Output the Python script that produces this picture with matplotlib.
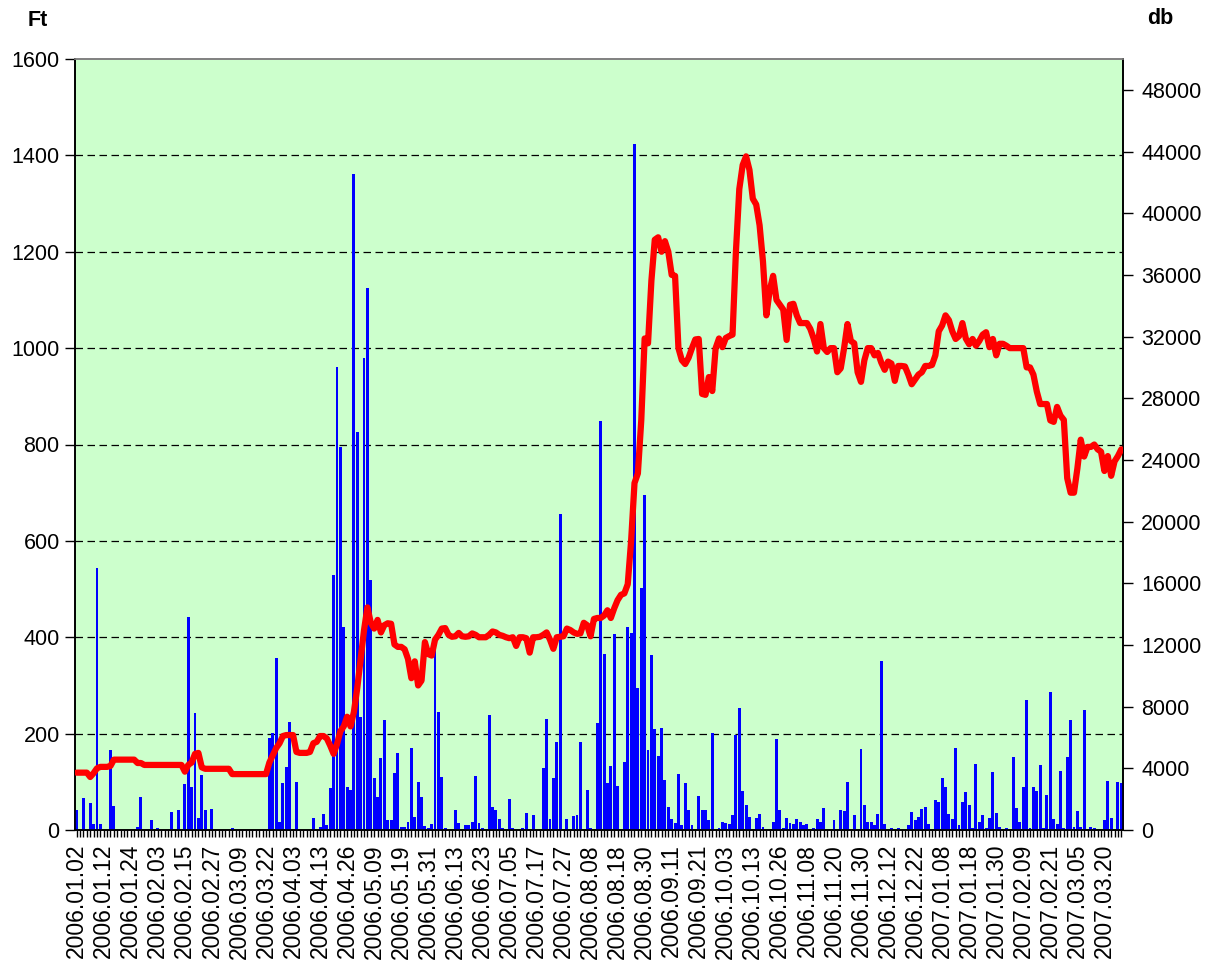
import matplotlib
matplotlib.use("Agg")
import matplotlib.pyplot as plt
import numpy as np

plt.rcParams['font.family'] = ['Liberation Sans', 'DejaVu Sans']

tick_labels = [
    "2006.01.02", "2006.01.12", "2006.01.24", "2006.02.03", "2006.02.15", "2006.02.27",
    "2006.03.09", "2006.03.22", "2006.04.03", "2006.04.13", "2006.04.26", "2006.05.09",
    "2006.05.19", "2006.05.31", "2006.06.13", "2006.06.23", "2006.07.05", "2006.07.17",
    "2006.07.27", "2006.08.08", "2006.08.18", "2006.08.30", "2006.09.11", "2006.09.21",
    "2006.10.03", "2006.10.13", "2006.10.26", "2006.11.08", "2006.11.20", "2006.11.30",
    "2006.12.12", "2006.12.22", "2007.01.08", "2007.01.18", "2007.01.30", "2007.02.09",
    "2007.02.21", "2007.03.05", "2007.03.20",
]

# closing price (Ft), one value per trading day
price = [
    119, 119, 119, 119, 110, 118, 128, 131, 131, 131,
    133, 146, 146, 146, 146, 146, 146, 146, 139, 139,
    135, 135, 135, 135, 135, 135, 135, 135, 135, 135,
    135, 135, 121, 135, 140, 158, 160, 130, 127, 127,
    127, 127, 127, 127, 127, 127, 116, 116, 116, 116,
    116, 116, 116, 116, 116, 116, 116, 140, 155, 170,
    180, 195, 197, 197, 197, 162, 160, 160, 160, 162,
    180, 183, 195, 195, 190, 175, 158, 178, 205, 215,
    235, 215, 245, 295, 355, 415, 462, 430, 418, 436,
    410, 425, 429, 428, 385, 380, 380, 375, 355, 315,
    350, 300, 310, 390, 365, 362, 395, 405, 418, 419,
    405, 401, 402, 409, 402, 401, 402, 408, 405, 400,
    400, 400, 405, 412, 410, 405, 403, 400, 398, 400,
    382, 400, 400, 398, 368, 400, 400, 401, 405, 410,
    395, 376, 400, 401, 402, 418, 415, 410, 407, 408,
    430, 425, 402, 438, 440, 440, 445, 456, 440, 460,
    477, 488, 491, 510, 600, 720, 740, 850, 1020, 1010,
    1140, 1225, 1230, 1200, 1222, 1200, 1152, 1150, 1000, 975,
    967, 980, 1000, 1018, 1019, 905, 903, 940, 911, 1000,
    1020, 1002, 1021, 1025, 1028, 1200, 1330, 1380, 1398, 1370,
    1310, 1298, 1255, 1180, 1068, 1120, 1150, 1100, 1090, 1080,
    1017, 1090, 1092, 1068, 1052, 1052, 1052, 1040, 1020, 993,
    1050, 1000, 992, 1000, 1000, 950, 958, 1000, 1050, 1015,
    1010, 950, 930, 975, 1000, 1000, 985, 990, 970, 955,
    972, 968, 932, 963, 963, 962, 945, 925, 935, 945,
    950, 963, 963, 965, 985, 1035, 1047, 1068, 1058, 1035,
    1019, 1025, 1052, 1020, 1008, 1019, 1005, 1015, 1028, 1033,
    1002, 1019, 985, 1009, 1009, 1005, 1000, 1000, 1000, 1000,
    1000, 960, 960, 945, 910, 884, 884, 884, 850, 847,
    878, 860, 851, 730, 700, 700, 750, 810, 775, 795,
    795, 800, 790, 785, 745, 776, 735, 765, 776, 790,
]

# traded volume (db), one value per trading day
volume = [
    1300, 0, 2070, 0, 1750, 400, 17000, 400, 0, 0,
    5200, 1570, 0, 0, 0, 0, 0, 0, 200, 2160,
    0, 0, 670, 0, 150, 0, 0, 0, 1190, 0,
    1300, 0, 2980, 13800, 2810, 7570, 800, 3570, 1300, 0,
    1340, 0, 0, 0, 0, 0, 150, 0, 0, 0,
    0, 0, 0, 0, 0, 0, 0, 5970, 6290, 11150,
    500, 3050, 4100, 7030, 0, 3130, 0, 0, 0, 0,
    800, 0, 200, 1060, 340, 2720, 16540, 30000, 24860, 13190,
    2810, 2590, 42540, 25830, 7350, 30600, 35150, 16200, 3370, 2160,
    4670, 7130, 670, 670, 3700, 4990, 200, 200, 500, 5320,
    870, 3130, 2150, 280, 150, 360, 12300, 7650, 3460, 150,
    0, 0, 1300, 450, 0, 350, 300, 550, 3500, 450,
    150, 0, 7450, 1510, 1300, 730, 100, 0, 2000, 100,
    0, 0, 150, 1090, 0, 1000, 0, 0, 4040, 7200,
    700, 3350, 5700, 20500, 0, 700, 0, 930, 950, 5700,
    0, 2590, 100, 0, 6960, 26500, 11400, 3050, 4150, 12680,
    2880, 0, 4430, 13170, 12800, 44500, 9180, 15700, 21700, 5160,
    11350, 6550, 4820, 6600, 3260, 1510, 730, 450, 3630, 300,
    3050, 1300, 300, 0, 2200, 1300, 1300, 620, 6320, 0,
    150, 550, 450, 360, 950, 6180, 7920, 2550, 1620, 840,
    0, 800, 1070, 200, 0, 0, 550, 5900, 1300, 150,
    800, 450, 360, 730, 550, 300, 420, 0, 150, 700,
    500, 1420, 0, 0, 620, 0, 1300, 1200, 3100, 0,
    950, 0, 5250, 1650, 550, 500, 300, 1070, 10930, 420,
    0, 150, 0, 100, 0, 0, 300, 1170, 660, 840,
    1360, 1510, 360, 0, 1950, 1800, 3400, 2800, 1070, 730,
    5300, 300, 1800, 2460, 1650, 150, 4280, 550, 950, 150,
    800, 3760, 1130, 200, 0, 120, 0, 4730, 1420, 500,
    2800, 8430, 100, 2820, 2530, 4220, 150, 2240, 8950, 730,
    360, 3850, 150, 4730, 7130, 200, 1200, 200, 7780, 0,
    200, 100, 0, 0, 620, 3200, 800, 0, 3100, 3050,
]

n = len(price)
x = np.arange(n)

fig = plt.figure(figsize=(12.09, 9.64), dpi=100)
ax = fig.add_axes([75 / 1209, 1 - 830 / 964, (1123 - 75) / 1209, (830 - 59) / 964])
ax.set_facecolor('#CCFFCC')
ax.set_xlim(-0.5, n - 0.5)
ax.set_ylim(0, 1600)
ax.set_yticks(np.arange(0, 1601, 200))
ax.set_yticklabels([str(v) for v in range(0, 1601, 200)])
for yv in range(200, 1600, 200):
    ax.axhline(yv, color='black', lw=0.9, ls=(0, (6, 3.6)), zorder=0.5)

# bars on right axis
ax2 = ax.twinx()
ax2.set_ylim(0, 50000)
ax2.set_yticks(np.arange(0, 48001, 4000))
ax2.set_yticklabels([str(v) for v in range(0, 48001, 4000)])
ax2.bar(x, volume, width=0.86, color='#0000FF', edgecolor='none', zorder=2)

# line on top
ax3 = ax.twinx()
ax3.set_ylim(0, 1600)
ax3.plot(x, price, color='#FF0000', lw=4.5, solid_joinstyle='round', solid_capstyle='round', zorder=3)
ax3.axis('off')
ax3.set_xlim(-0.5, n - 0.5)

# x axis ticks
major = np.arange(0, n, 8)[:len(tick_labels)]
ax.set_xticks(major)
ax.set_xticklabels(tick_labels, rotation=90, fontsize=16.5)
ax.set_xticks(x, minor=True)
ax.tick_params(axis='x', which='both', direction='out', length=5, width=1, color='black', pad=5)
ax.tick_params(axis='y', direction='out', length=7, width=1, labelsize=15.5, pad=4)
ax2.tick_params(axis='y', direction='out', length=7, width=1, labelsize=15.5, pad=6)
ax2.tick_params(axis='x', which='both', bottom=False, labelbottom=False)

for a in (ax, ax2):
    a.spines['top'].set_color('#808080')
    a.spines['left'].set_color('black')
    a.spines['right'].set_color('black')
    a.spines['bottom'].set_color('black')
    for s in a.spines.values():
        s.set_linewidth(1.2)
ax2.set_xlim(-0.5, n - 0.5)

fig.text(38 / 1209, 1 - 20 / 964, 'Ft', fontsize=15.5, fontweight='bold', ha='center', va='center')
fig.text(1160 / 1209, 1 - 18 / 964, 'db', fontsize=15.5, fontweight='bold', ha='center', va='center')

fig.savefig('out.png', dpi=100)
